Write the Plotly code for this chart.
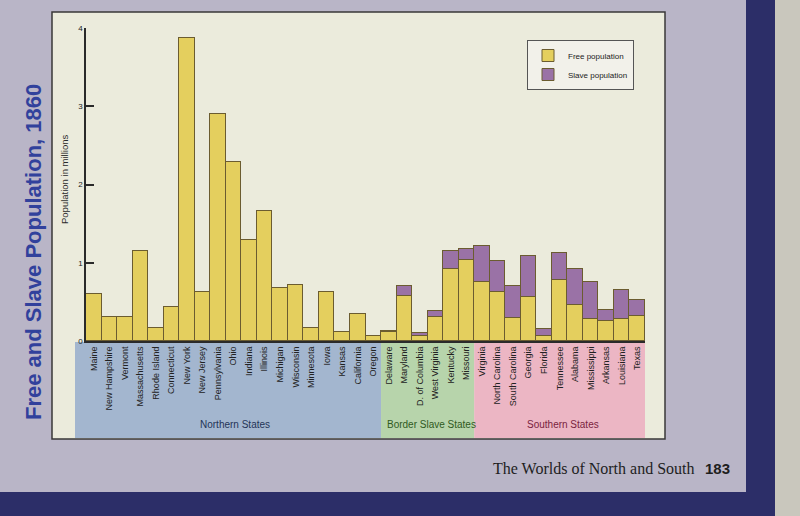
import plotly.graph_objects as go

states = ["Maine", "New Hampshire", "Vermont", "Massachusetts", "Rhode Island", "Connecticut",
          "New York", "New Jersey", "Pennsylvania", "Ohio", "Indiana", "Illinois", "Michigan",
          "Wisconsin", "Minnesota", "Iowa", "Kansas", "California", "Oregon",
          "Delaware", "Maryland", "D. of Columbia", "West Virginia", "Kentucky", "Missouri",
          "Virginia", "North Carolina", "South Carolina", "Georgia", "Florida", "Tennessee",
          "Alabama", "Mississippi", "Arkansas", "Louisiana", "Texas"]

free_pop = [0.60, 0.31, 0.31, 1.15, 0.16, 0.44, 3.87, 0.63, 2.90, 2.29, 1.29, 1.66, 0.68,
            0.71, 0.17, 0.63, 0.11, 0.35, 0.07,
            0.11, 0.58, 0.06, 0.31, 0.92, 1.04,
            0.76, 0.63, 0.29, 0.56, 0.07, 0.78, 0.46, 0.28, 0.26, 0.28, 0.32]

slave_pop = [0, 0, 0, 0, 0, 0, 0, 0, 0, 0, 0, 0, 0, 0, 0, 0, 0, 0, 0,
             0.02, 0.12, 0.04, 0.07, 0.23, 0.14,
             0.46, 0.39, 0.41, 0.53, 0.08, 0.35, 0.46, 0.47, 0.13, 0.37, 0.21]

groups = ["Northern States", "Border Slave States", "Southern States"]
group_sizes = [19, 6, 11]

y_ticks = [0, 1, 2, 3, 4]

# ---- layout geometry (pixels) ----
W, H = 800, 516
L, R, T, B = 86, 155, 28, 175
PW, PH = W - L - R, H - T - B


def px_x(p):
    return (p - L) / PW


def px_y(p):
    return (H - B - p) / PH


FONT = "Liberation Sans, Arial, sans-serif"
YELLOW = "#e4cf5e"
PURPLE = "#9a72a6"
EDGE = "#6b5c30"
PAGE = "#b9b5c7"

fig = go.Figure()
fig.add_trace(go.Bar(x=states, y=free_pop, name="Free population",
                     marker=dict(color=YELLOW, line=dict(color=EDGE, width=1))))
fig.add_trace(go.Bar(x=states, y=slave_pop, name="Slave population",
                     marker=dict(color=PURPLE, line=dict(color=EDGE, width=1))))

shapes = []
# page decorations
shapes.append(dict(type="rect", xref="paper", yref="paper", x0=px_x(-5), x1=px_x(748),
                   y0=px_y(492), y1=px_y(521), fillcolor="#2c2e68", line=dict(width=0), layer="below"))
shapes.append(dict(type="rect", xref="paper", yref="paper", x0=px_x(746), x1=px_x(775),
                   y0=px_y(521), y1=px_y(-5), fillcolor="#2c2e68", line=dict(width=0), layer="below"))
shapes.append(dict(type="rect", xref="paper", yref="paper", x0=px_x(775), x1=px_x(805),
                   y0=px_y(521), y1=px_y(-5), fillcolor="#c9c7bd", line=dict(width=0), layer="below"))
# chart panel
shapes.append(dict(type="rect", xref="paper", yref="paper", x0=px_x(52), x1=px_x(665),
                   y0=px_y(439), y1=px_y(12), fillcolor="#ebebdc",
                   line=dict(color="#3a3838", width=1.5), layer="below"))
# group bands
band_cols = ["#a3b6cf", "#b7d4ab", "#ecb6c4"]
text_cols = ["#243457", "#2f5a22", "#7a2440"]
start = 0
n = len(states)
for g, size, bc in zip(groups, group_sizes, band_cols):
    x0 = start / n
    x1 = (start + size) / n
    if start == 0:
        x0 = px_x(75)
    shapes.append(dict(type="rect", xref="paper", yref="paper", x0=x0, x1=x1,
                       y0=px_y(438), y1=px_y(342), fillcolor=bc, line=dict(width=0), layer="below"))
    start += size

annotations = []
centers = [px_x(235), px_x(432), px_x(563)]
for g, tc, cx in zip(groups, text_cols, centers):
    annotations.append(dict(text=g, x=cx, y=px_y(424), xref="paper", yref="paper",
                            xanchor="center", yanchor="middle",
                            showarrow=False, font=dict(family=FONT, size=10, color=tc)))

annotations.append(dict(text="Population in millions", x=px_x(64), y=px_y(180),
                        xref="paper", yref="paper", showarrow=False, textangle=-90,
                        xanchor="center", yanchor="middle",
                        font=dict(family=FONT, size=9.5, color="#2a2a2a")))
annotations.append(dict(text="<b>Free and Slave Population, 1860</b>", x=px_x(33), y=px_y(252),
                        xref="paper", yref="paper", showarrow=False, textangle=-90,
                        xanchor="center", yanchor="middle",
                        font=dict(family=FONT, size=22, color="#31419c")))
annotations.append(dict(text="The Worlds of North and South", x=px_x(697), y=px_y(468),
                        xref="paper", yref="paper", showarrow=False, xanchor="right",
                        yanchor="middle",
                        font=dict(family="Liberation Serif, Times New Roman, serif", size=16,
                                  color="#1e1e1e")))
annotations.append(dict(text="<b>183</b>", x=px_x(703), y=px_y(468),
                        xref="paper", yref="paper", showarrow=False, xanchor="left",
                        yanchor="middle",
                        font=dict(family=FONT, size=15, color="#1e1e1e")))

fig.update_layout(
    width=W, height=H,
    margin=dict(l=L, r=R, t=T, b=B),
    paper_bgcolor=PAGE,
    plot_bgcolor="rgba(0,0,0,0)",
    barmode="stack",
    bargap=0,
    showlegend=True,
    legend=dict(x=px_x(527), y=px_y(40), xanchor="left", yanchor="top",
                bgcolor="#f2f1ea", bordercolor="#555555", borderwidth=1,
                traceorder="normal", font=dict(family=FONT, size=8, color="#222222"),
                itemwidth=30),
    shapes=shapes,
    annotations=annotations,
    xaxis=dict(range=[-0.5, n - 0.5], tickangle=-90, showline=True, linecolor="#2a2a2a",
               linewidth=2, ticks="", tickfont=dict(family=FONT, size=9, color="#222222"),
               showgrid=False, zeroline=False, fixedrange=True),
    yaxis=dict(range=[0, 4.0], tickvals=y_ticks, ticktext=[str(v) for v in y_ticks],
               showline=True, linecolor="#2a2a2a", linewidth=1.5, ticks="inside",
               ticklen=8, tickwidth=1.5, tickcolor="#2a2a2a",
               tickfont=dict(family=FONT, size=8, color="#222222"),
               showgrid=False, zeroline=False),
)

fig.write_html("out.html",
               config={"displayModeBar": False},
               post_script="document.body.style.margin='0';"
                           "document.body.style.overflow='hidden';"
                           "document.body.style.background='" + PAGE + "';")
